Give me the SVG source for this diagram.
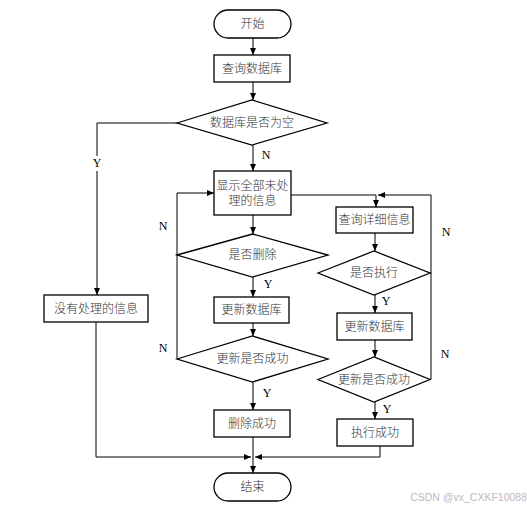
<svg xmlns="http://www.w3.org/2000/svg" width="527" height="508" viewBox="0 0 527 508">
<defs>
<marker id="ah" markerWidth="8" markerHeight="6" refX="7" refY="3" orient="auto" markerUnits="userSpaceOnUse">
<path d="M0,0 L7,3 L0,6 Z" fill="#000"/>
</marker>
<style>
.s{fill:#fff;stroke:#000;stroke-width:1.3}
.c{fill:none;stroke:#000;stroke-width:1}
.t{font-family:"Liberation Serif","Noto Sans CJK SC",serif;font-size:12px;font-weight:300;fill:#333;text-anchor:middle;dominant-baseline:central}
.l{font-family:"Liberation Serif",serif;font-size:12px;fill:#000;text-anchor:middle;dominant-baseline:central}
</style>
</defs>
<rect width="527" height="508" fill="#fff"/>
<g id="connectors">
<path class="c" d="M253,38 V55" marker-end="url(#ah)"/>
<path class="c" d="M253,82 V100" marker-end="url(#ah)"/>
<path class="c" d="M177,123 H97 V156 M97,171 V295" marker-end="url(#ah)"/>
<path class="c" d="M253,145 V171" marker-end="url(#ah)"/>
<path class="c" d="M253,215 V234" marker-end="url(#ah)"/>
<path class="c" d="M253,277 V297" marker-end="url(#ah)"/>
<path class="c" d="M253,323 V336" marker-end="url(#ah)"/>
<path class="c" d="M253,382 V410" marker-end="url(#ah)"/>
<path class="c" d="M177,359 V193 H214" marker-end="url(#ah)"/>
<path class="c" d="M291,195 H376 V207" marker-end="url(#ah)"/>
<path class="c" d="M430,273 H431 V195 H378" marker-end="url(#ah)"/>
<path class="c" d="M430,379 H431 V273"/>
<path class="c" d="M375,233 V251" marker-end="url(#ah)"/>
<path class="c" d="M375,295 V313" marker-end="url(#ah)"/>
<path class="c" d="M375,340 V357" marker-end="url(#ah)"/>
<path class="c" d="M375,402 V419" marker-end="url(#ah)"/>
<path class="c" d="M96,322 V457 H251" marker-end="url(#ah)"/>
<path class="c" d="M380,446 V457 H255" marker-end="url(#ah)"/>
<path class="c" d="M253,437 V473" marker-end="url(#ah)"/>
<text class="l" x="97" y="163">Y</text>
<text class="l" x="266" y="155">N</text>
<text class="l" x="268" y="284">Y</text>
<text class="l" x="267" y="393">Y</text>
<text class="l" x="163" y="226">N</text>
<text class="l" x="163" y="348">N</text>
<text class="l" x="386" y="301">Y</text>
<text class="l" x="387" y="409">Y</text>
<text class="l" x="446" y="232">N</text>
<text class="l" x="445" y="354">N</text>
</g>
<g id="start"><rect class="s" x="214" y="10" width="77" height="28" rx="14"/><text class="t" x="252.5" y="24">开始</text></g>
<g id="query"><rect class="s" x="214" y="55" width="76" height="27"/><text class="t" x="252" y="68.5">查询数据库</text></g>
<g id="isEmpty"><polygon class="s" points="177,123 252,100 327,123 252,145"/><text class="t" x="252" y="123">数据库是否为空</text></g>
<g id="noInfo"><rect class="s" x="44" y="295" width="104" height="27"/><text class="t" x="96" y="308.5">没有处理的信息</text></g>
<g id="show"><rect class="s" x="214" y="171" width="77" height="44"/><text class="t" x="252.5" y="186">显示全部未处</text><text class="t" x="252.5" y="201">理的信息</text></g>
<g id="isDelete"><polygon class="s" points="177,255 252.5,234 328,255 252.5,277"/><text class="t" x="252.5" y="255">是否删除</text></g>
<g id="update1"><rect class="s" x="214" y="297" width="75" height="26"/><text class="t" x="251.5" y="310">更新数据库</text></g>
<g id="success1"><polygon class="s" points="177,359 252.5,336 328,359 252.5,382"/><text class="t" x="252.5" y="359">更新是否成功</text></g>
<g id="deleteOk"><rect class="s" x="214" y="410" width="76" height="27"/><text class="t" x="252" y="423.5">删除成功</text></g>
<g id="detail"><rect class="s" x="336" y="207" width="77" height="26"/><text class="t" x="374.5" y="220">查询详细信息</text></g>
<g id="isExec"><polygon class="s" points="318,273 374,251 430,273 374,295"/><text class="t" x="374" y="273">是否执行</text></g>
<g id="update2"><rect class="s" x="337" y="313" width="75" height="27"/><text class="t" x="374.5" y="326.5">更新数据库</text></g>
<g id="success2"><polygon class="s" points="318,379.5 374,357 430,379.5 374,402"/><text class="t" x="374" y="379.5">更新是否成功</text></g>
<g id="execOk"><rect class="s" x="337" y="419" width="76" height="27"/><text class="t" x="375" y="432.5">执行成功</text></g>
<g id="end"><rect class="s" x="214" y="473" width="77" height="28" rx="14"/><text class="t" x="252.5" y="487">结束</text></g>
<text x="527" y="497" font-family="Liberation Sans,sans-serif" font-size="10.5" fill="#bbb" text-anchor="end" dominant-baseline="central">CSDN @vx_CXKF10088</text>
</svg>
